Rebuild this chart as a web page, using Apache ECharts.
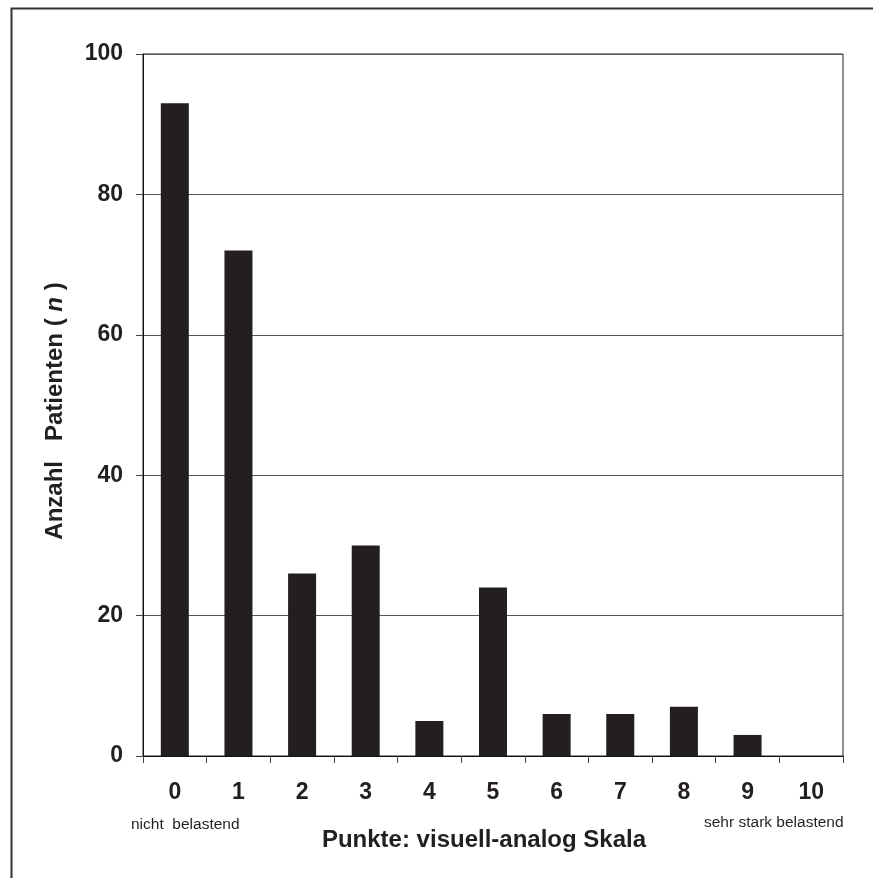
<!DOCTYPE html>
<html>
<head>
<meta charset="utf-8">
<script src="https://cdn.jsdelivr.net/npm/echarts@6/dist/echarts.min.js"></script>
<style>html,body{margin:0;padding:0;background:#fff;}#c{width:873px;height:878px;}</style>
</head>
<body>
<div id="c"></div>
<script>
const categories = ['0','1','2','3','4','5','6','7','8','9','10'];
const patients = [93, 72, 26, 30, 5, 24, 6, 6, 7, 3, 0];
const yTicks = { min: 0, max: 100, interval: 20 };

const chart = echarts.init(document.getElementById('c'));
const F = '"Liberation Sans", Arial, sans-serif';
chart.setOption({
  animation: false,
  backgroundColor: '#fff',
  grid: { left: 143, right: 30, top: 54, bottom: 122, show: true, borderColor: '#222', borderWidth: 1 },
  xAxis: {
    type: 'category',
    data: categories,
    axisLine: { lineStyle: { color: '#111', width: 1 } },
    axisTick: { show: true, length: 7, lineStyle: { color: '#444' } },
    axisLabel: { color: '#231f20', fontFamily: F, fontWeight: 'bold', fontSize: 23, margin: 25 }
  },
  yAxis: {
    type: 'value',
    min: yTicks.min, max: yTicks.max, interval: yTicks.interval,
    axisLine: { show: true, lineStyle: { color: '#111', width: 1 } },
    axisTick: { show: true, length: 7, lineStyle: { color: '#444' } },
    axisLabel: { color: '#231f20', fontFamily: F, fontWeight: 'bold', fontSize: 23, margin: 20 },
    splitLine: { lineStyle: { color: '#555', width: 1 } }
  },
  series: [{
    type: 'bar',
    data: patients,
    barWidth: 28,
    itemStyle: { color: '#231f20' }
  }],
  graphic: [
    { type: 'rect', left: 9, top: 6, shape: { width: 900, height: 900 }, style: { fill: 'none', stroke: '#333', lineWidth: 2 }, z: 100 },
    { type: 'text', left: 131, top: 817, style: { text: 'nicht  belastend', fontFamily: F, fontSize: 15.5, fill: '#231f20' } },
    { type: 'text', left: 704, top: 815, style: { text: 'sehr stark belastend', fontFamily: F, fontSize: 15.5, fill: '#231f20' } },
    { type: 'text', x: 484, y: 840, style: { text: 'Punkte: visuell-analog Skala', fontFamily: F, fontWeight: 'bold', fontSize: 24, fill: '#231f20', align: 'center', verticalAlign: 'middle' } },
    { type: 'text', x: 55, y: 411, rotation: Math.PI / 2,
      style: {
        text: '{b|Anzahl   Patienten ( }{i|n}{b| )}',
        align: 'center', verticalAlign: 'middle',
        rich: {
          b: { fontFamily: F, fontWeight: 'bold', fontSize: 24, fill: '#231f20', color: '#231f20' },
          i: { fontFamily: F, fontWeight: 'bold', fontStyle: 'italic', fontSize: 24, fill: '#231f20', color: '#231f20' }
        }
      }
    }
  ]
});
</script>
</body>
</html>
